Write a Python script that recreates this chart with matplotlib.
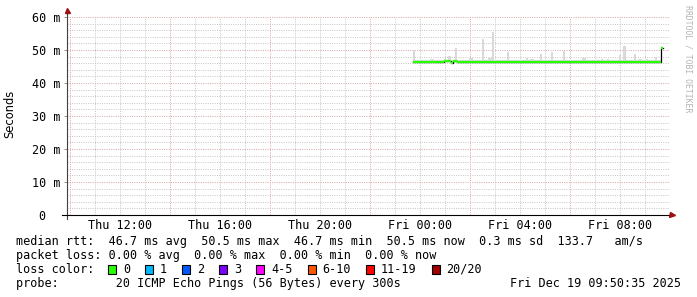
import numpy as np
import matplotlib
matplotlib.use("Agg")
import matplotlib.pyplot as plt
from matplotlib.lines import Line2D
from matplotlib.patches import Rectangle

W, H, DPI = 697, 297, 100

# ---------------- data ----------------
step_start_hour = 23.72          # hours since Thu 00:00 (first 300 s step)
step_hours = 300 / 3600.0

median_ms = [
    46.5, 46.5, 46.5, 46.5, 46.5, 46.5, 46.5, 46.5, 46.5, 46.5, 46.5, 46.5,
    46.5, 46.5, 46.5, 46.8, 46.8, 46.8, 46.2, 46.8, 46.8, 46.5, 46.5, 46.5,
    46.5, 46.5, 46.5, 46.5, 46.5, 46.5, 46.5, 46.5, 46.5, 46.5, 46.5, 46.5,
    46.5, 46.5, 46.5, 46.5, 46.5, 46.5, 46.5, 46.5, 46.5, 46.5, 46.5, 46.5,
    46.5, 46.5, 46.5, 46.5, 46.5, 46.5, 46.5, 46.5, 46.5, 46.5, 46.5, 46.5,
    46.5, 46.5, 46.5, 46.5, 46.5, 46.5, 46.5, 46.5, 46.5, 46.5, 46.5, 46.5,
    46.5, 46.5, 46.5, 46.5, 46.5, 46.5, 46.5, 46.5, 46.5, 46.5, 46.5, 46.5,
    46.5, 46.5, 46.5, 46.5, 46.5, 46.5, 46.5, 46.5, 46.5, 46.5, 46.5, 46.5,
    46.5, 46.5, 46.5, 46.5, 46.5, 46.5, 46.5, 46.5, 46.5, 46.5, 46.5, 46.5,
    46.5, 46.5, 46.5, 46.5, 46.5, 46.5, 46.5, 46.5, 46.5, 46.5, 46.5, 50.5,
]
max_ms = [
    50.0, 46.9, 46.9, 46.9, 46.9, 46.9, 46.9, 46.9, 47.3, 47.3, 46.9, 46.9,
    46.9, 46.9, 46.9, 47.2, 47.1, 48.1, 46.9, 47.1, 50.6, 46.9, 46.9, 46.9,
    46.9, 46.9, 46.9, 47.6, 47.6, 46.9, 46.9, 46.9, 47.0, 53.3, 46.9, 46.9,
    47.5, 47.5, 55.5, 46.9, 46.9, 46.9, 46.9, 46.9, 46.9, 49.4, 46.9, 46.9,
    46.9, 47.0, 46.9, 46.9, 46.9, 46.9, 47.7, 46.9, 47.3, 47.3, 46.9, 47.1,
    47.1, 48.8, 46.9, 46.9, 46.9, 46.9, 49.4, 46.9, 46.9, 46.9, 47.1, 46.9,
    49.8, 46.9, 46.9, 46.9, 46.9, 46.9, 46.9, 47.1, 46.9, 47.6, 47.6, 46.9,
    46.9, 46.9, 46.9, 46.9, 46.9, 46.9, 47.2, 46.9, 46.9, 47.3, 46.9, 46.9,
    46.9, 47.1, 46.9, 48.6, 46.9, 51.2, 46.9, 46.9, 46.9, 46.9, 48.7, 46.9,
    47.4, 47.4, 46.9, 46.9, 47.2, 46.9, 46.9, 46.9, 48.0, 46.9, 46.9, 50.7,
]

x_range = (9.88, 33.96)
y_range = (0, 60)
x_ticks = [12, 16, 20, 24, 28, 32]
x_tick_labels = ["Thu 12:00", "Thu 16:00", "Thu 20:00",
                 "Fri 00:00", "Fri 04:00", "Fri 08:00"]
y_ticks = [0, 10, 20, 30, 40, 50, 60]
y_tick_labels = ["0  ", "10 m", "20 m", "30 m", "40 m", "50 m", "60 m"]

loss_labels = ["0", "1", "2", "3", "4-5", "6-10", "11-19", "20/20"]
loss_colors = ["#26ff00", "#00b8ff", "#0059ff", "#7e00ff",
               "#ff00ff", "#ff5500", "#ff0000", "#a10000"]

stat_line1 = "median rtt:  46.7 ms avg  50.5 ms max  46.7 ms min  50.5 ms now  0.3 ms sd  133.7   am/s"
stat_line2 = "packet loss: 0.00 % avg  0.00 % max  0.00 % min  0.00 % now"
probe_line = "probe:        20 ICMP Echo Pings (56 Bytes) every 300s"
date_text = "Fri Dec 19 09:50:35 2025"
watermark = "RRDTOOL / TOBI OETIKER"

# ---------------- figure ----------------
MONO = "DejaVu Sans Mono"
FS = 8.5
fig = plt.figure(figsize=(W / DPI, H / DPI), dpi=DPI, facecolor="white")


def fx(x):
    return x / W


def fy(y):
    return 1 - y / H


L, R, T, B = 67, 669, 17, 215
ax = fig.add_axes([fx(L), fy(B), fx(R) - fx(L), fy(T) - fy(B)])
ax.set_facecolor("white")
ax.set_xlim(*x_range)
ax.set_ylim(*y_range)
for s in ax.spines.values():
    s.set_visible(False)

minor_col = "#c8c8c8"
major_col = "#dca8a8"
dots = (0, (1, 1.3))
for y in range(2, 61, 2):
    if y % 10:
        ax.axhline(y, color=minor_col, lw=0.72, ls=dots, zorder=0.5)
for y in range(10, 61, 10):
    ax.axhline(y, color=major_col, lw=0.72, ls=dots, zorder=0.6)
for h in range(10, 34):
    if (h - 10) % 4:
        ax.axvline(h, color=minor_col, lw=0.72, ls=dots, zorder=0.5)
for h in range(10, 34, 4):
    ax.axvline(h, color=major_col, lw=0.72, ls=dots, zorder=0.6)

t = step_start_hour + np.arange(len(median_ms)) * step_hours
med = np.array(median_ms)
mx = np.array(max_ms)

# smoke
ax.bar(t, mx - med, bottom=med, width=step_hours, align="edge",
       color="#d9d9d9", linewidth=0, zorder=2)
# median line: black connectors, then loss-coloured segments
tt = np.append(t, t[-1] + step_hours)
mm = np.append(med, med[-1])
ax.plot(tt, mm, drawstyle="steps-post", color="black", lw=0.9, zorder=3)
ax.hlines(med, t, t + step_hours, color=loss_colors[0], lw=1.6, zorder=4)

# ticks
ax.set_xticks(x_ticks)
ax.set_xticklabels(x_tick_labels, fontfamily=MONO, fontsize=FS)
ax.set_yticks(y_ticks)
ax.set_yticklabels(y_tick_labels, fontfamily=MONO, fontsize=FS)
ax.tick_params(axis="x", length=0, pad=3.2)
ax.tick_params(axis="y", length=2.2, width=0.7, color="#909090", pad=2.8)

# axes lines and arrows
fig.add_artist(Line2D([fx(L), fx(L)], [fy(219), fy(11)], color="#404040",
                      lw=0.8, transform=fig.transFigure))
fig.add_artist(Line2D([fx(62), fx(670)], [fy(B), fy(B)], color="black",
                      lw=0.8, transform=fig.transFigure))
fig.add_artist(Line2D([fx(L)], [fy(9.5)], marker="^", markersize=3.6,
                      color="#9b1010", lw=0, transform=fig.transFigure))
fig.add_artist(Line2D([fx(672)], [fy(B)], marker=">", markersize=3.6,
                      color="#9b1010", lw=0, transform=fig.transFigure))

# y label
fig.text(fx(10), fy(114), "Seconds", rotation=90, ha="center", va="center",
         fontfamily="DejaVu Sans", fontsize=8.3)

# watermark
fig.text(fx(688), fy(5), watermark, rotation=270, ha="center", va="top",
         fontfamily=MONO, fontsize=5.9, color="#b4b4b4")

# statistics block
fig.text(fx(16), fy(241.5), stat_line1, ha="left", va="center",
         fontfamily=MONO, fontsize=FS)
fig.text(fx(16), fy(255.5), stat_line2, ha="left", va="center",
         fontfamily=MONO, fontsize=FS)
fig.text(fx(16), fy(269.3), "loss color:", ha="left", va="center",
         fontfamily=MONO, fontsize=FS)
cw = 7.1
bx = 108
for lab, col in zip(loss_labels, loss_colors):
    fig.add_artist(Rectangle((fx(bx), fy(273.5)), 8 / W, 8.5 / H,
                             facecolor=col, edgecolor="black", lw=0.8,
                             transform=fig.transFigure))
    fig.text(fx(bx + 15), fy(269.3), lab, ha="left", va="center",
             fontfamily=MONO, fontsize=FS)
    bx = bx + 15 + len(lab) * cw + 15
fig.text(fx(16), fy(283.3), probe_line, ha="left", va="center",
         fontfamily=MONO, fontsize=FS)
fig.text(fx(681), fy(283.3), date_text, ha="right", va="center",
         fontfamily=MONO, fontsize=FS)

fig.savefig("out.png", dpi=DPI, facecolor="white")
